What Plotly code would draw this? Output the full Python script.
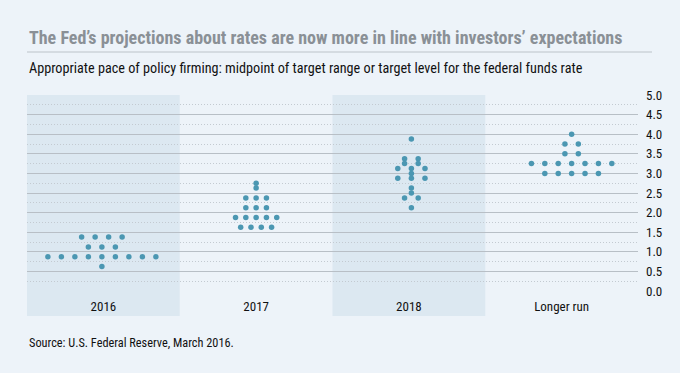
import plotly.graph_objects as go
from collections import Counter

# ---- data ----
categories = ["2016", "2017", "2018", "Longer run"]
dots_2016 = [1.375, 1.375, 1.375, 1.375, 1.125, 1.125, 1.125,
             0.875, 0.875, 0.875, 0.875, 0.875, 0.875, 0.875, 0.875, 0.875, 0.625]
dots_2017 = [2.75, 2.625, 2.375, 2.375, 2.375, 2.125, 2.125, 2.125,
             1.875, 1.875, 1.875, 1.875, 1.875, 1.625, 1.625, 1.625, 1.625]
dots_2018 = [3.875, 3.375, 3.375, 3.25, 3.25, 3.125, 3.125, 3.125, 3.0,
             2.875, 2.875, 2.875, 2.625, 2.5, 2.375, 2.375, 2.125]
dots_longer = [4.0, 3.75, 3.75, 3.5, 3.5, 3.25, 3.25, 3.25, 3.25, 3.25, 3.25, 3.25,
               3.0, 3.0, 3.0, 3.0, 3.0]
series = [dots_2016, dots_2017, dots_2018, dots_longer]
y_ticks = [0.0, 0.5, 1.0, 1.5, 2.0, 2.5, 3.0, 3.5, 4.0, 4.5, 5.0]

title = "The Fed’s projections about rates are now more in line with investors’ expectations"
subtitle = "Appropriate pace of policy firming: midpoint of target range or target level for the federal funds rate"
source = "Source: U.S. Federal Reserve, March 2016."

# ---- layout / style constants ----
W, H = 680, 373
L, R, T, B = 27, 42, 95, 82
PW = W - L - R
PH = H - T - B
COL_PX = PW / len(categories)
SPACING_PX = [13.5, 10.3, 13.6, 13.4]
SHIFT_PX = [-1.5, 0, 2.5, 10]
DOT_COLOR = "#4b97b2"
BG = "#edf3f9"
BAND = "#dce8f1"
FONT = "Roboto Condensed, DejaVu Sans Condensed, sans-serif"

def py(pixel_y):
    return (H - B - pixel_y) / PH

def px_x(pixel_x):
    return (pixel_x - L) / PW

fig = go.Figure()

for ci, vals in enumerate(series):
    counts = Counter(vals)
    seen = Counter()
    xs, ys = [], []
    for v in vals:
        n = counts[v]
        k = seen[v]
        seen[v] += 1
        off = ((k - (n - 1) / 2) * SPACING_PX[ci] + SHIFT_PX[ci]) / COL_PX
        xs.append(ci + off)
        ys.append(v)
    fig.add_trace(go.Scatter(
        x=xs, y=ys, mode="markers",
        marker=dict(size=5.5, color=DOT_COLOR, line=dict(width=0)),
        showlegend=False, hoverinfo="skip"))

# shaded columns
for ci in (0, 2):
    fig.add_shape(type="rect", xref="x", yref="paper",
                  x0=ci - 0.5, x1=ci + 0.5, y0=py(316), y1=1,
                  fillcolor=BAND, line=dict(width=0), layer="below")

# title underline
fig.add_shape(type="line", xref="paper", yref="paper",
              x0=0, x1=px_x(652), y0=py(52), y1=py(52),
              line=dict(color="#bcc3c9", width=1))

fig.add_annotation(text=title, xref="paper", yref="paper", x=0, y=py(38),
                   xanchor="left", yanchor="middle", showarrow=False,
                   font=dict(family=FONT, size=18, color="#8a9096", weight="bold"))
fig.add_annotation(text=subtitle, xref="paper", yref="paper", x=0, y=py(68),
                   xanchor="left", yanchor="middle", showarrow=False,
                   font=dict(family=FONT, size=14.2, color="#111111"))
fig.add_annotation(text=source, xref="paper", yref="paper", x=0, y=py(343),
                   xanchor="left", yanchor="middle", showarrow=False,
                   font=dict(family=FONT, size=12.3, color="#111111"))

fig.update_layout(
    width=W, height=H,
    margin=dict(l=L, r=R, t=T, b=B),
    paper_bgcolor=BG, plot_bgcolor=BG,
    font=dict(family=FONT, color="#111111"),
    xaxis=dict(range=[-0.5, 3.5], tickvals=list(range(len(categories))),
               ticktext=categories, showgrid=False, zeroline=False,
               showline=False, ticks="", tickfont=dict(size=13, color="#111111"),
               ticklabelstandoff=6, fixedrange=True),
    yaxis=dict(range=[0, 5], side="right", tickvals=y_ticks,
               ticktext=[f"{v:.1f}" for v in y_ticks],
               showgrid=True, gridcolor="#b8bfc6", gridwidth=1,
               zeroline=False, showline=False, ticks="",
               tickfont=dict(size=13, color="#111111"),
               ticklabelstandoff=7,
               minor=dict(tickvals=[0.25 + 0.5 * i for i in range(10)],
                          showgrid=True, gridcolor="#c3cad1", griddash="1px,2px",
                          gridwidth=1),
               fixedrange=True),
)

fig.write_html("out.html", config={"displayModeBar": False},
               post_script="document.body.style.margin='0';document.body.style.background='#edf3f9';")
